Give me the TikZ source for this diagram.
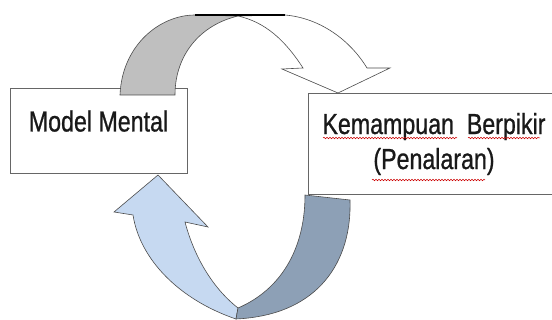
\documentclass[tikz,border=0pt]{standalone}
\usepackage{fontspec}
\setmainfont{Liberation Sans}[FakeStretch=0.8,FakeBold=0.8]
\usetikzlibrary{decorations.pathmorphing}
\definecolor{abuabu}{RGB}{191,191,191}
\definecolor{birumuda}{RGB}{198,217,241}
\definecolor{birutua}{RGB}{141,160,182}

\begin{document}
\begin{tikzpicture}[x=1pt,y=-1pt,
  kotak/.style={draw=black!60,line width=1pt,fill=white,inner sep=0pt,font=\fontsize{29}{35}\selectfont,text=black!90},
  panah/.style={draw=black!70,line width=0.6pt},
  salah/.style={red!80!black,line width=0.5pt,decorate,decoration={snake,amplitude=0.8pt,segment length=3pt}}]
\useasboundingbox (0,0) rectangle (552,320);
\clip (0,0) rectangle (552,320);

\draw (98.5,88) node (model) [kotak,anchor=north,minimum width=177pt,text height=43pt,text depth=42pt] {Model Mental};
\draw (434,144) node (nalar) [kotak,align=center,minimum width=252pt,minimum height=101pt] {Kemampuan~ Berpikir\\(Penalaran)};

\draw[salah] (323,138) -- (457,138);
\draw[salah] (468,138) -- (540,138);
\draw[salah] (372,180) -- (485,180);

\draw[panah,fill=abuabu] (120,95) .. controls (122,45) and (160,15) .. (195,15) -- (238,16) .. controls (200,25) and (175,55) .. (175,95) -- cycle;
\draw[panah,fill=white] (238,16) -- (285,15) .. controls (320,18) and (350,40) .. (367,68) -- (390,68) -- (338,93) -- (282,69) -- (303,68) .. controls (285,40) and (265,22) .. (238,16) -- cycle;
\draw[black,line width=1.2pt] (195,15) -- (285,15);

\draw[panah,fill=birumuda] (158,175) -- (208,227) -- (185,222) .. controls (195,260) and (215,290) .. (238,308) -- (236,319) .. controls (180,300) and (140,260) .. (133,215) -- (114,212) -- cycle;
\draw[panah,fill=birutua] (305,195) -- (350,200) .. controls (352,260) and (320,315) .. (236,319) -- (238,308) .. controls (280,290) and (305,250) .. (305,195) -- cycle;

\end{tikzpicture}
\end{document}
